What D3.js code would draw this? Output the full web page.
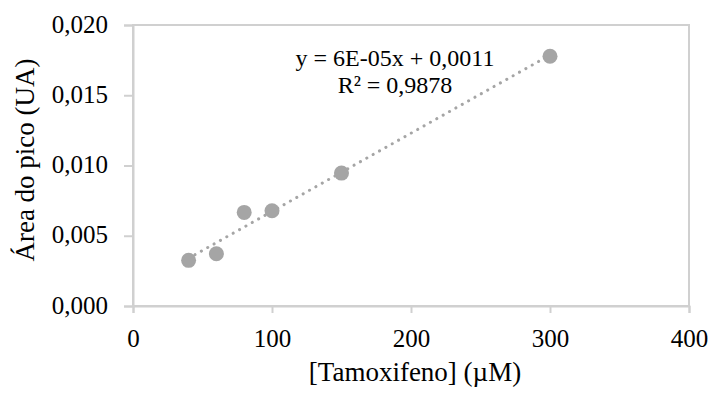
<!DOCTYPE html>
<html>
<head>
<meta charset="utf-8">
<script src="https://cdn.jsdelivr.net/npm/d3@7"></script>
<style>
  html, body { margin: 0; padding: 0; background: #fff; }
  svg { display: block; font-family: "Liberation Serif", "Times New Roman", serif; }
</style>
</head>
<body>
<svg id="chart" width="712" height="394"></svg>
<script>
// Calibration data: tamoxifen concentration (µM) vs. peak area (UA)
const concentrations = [40, 60, 80, 100, 150, 300];
const peakAreas = [0.00325, 0.00372, 0.00666, 0.00678, 0.00946, 0.01778];
const xTicks = [0, 100, 200, 300, 400];
const yTicks = [0, 0.005, 0.010, 0.015, 0.020];
const equationLabel = "y = 6E-05x + 0,0011";
const r2Label = "R² = 0,9878";
const xTitle = "[Tamoxifeno] (µM)";
const yTitle = "Área do pico (UA)";

const svg = d3.select("#chart");
const plot = { left: 133, top: 25, right: 689, bottom: 306 };
const axisColor = "#d0d0d0";
const markColor = "#a5a5a5";

const x = d3.scaleLinear().domain([0, 400]).range([plot.left, plot.right]);
const y = d3.scaleLinear().domain([0, 0.020]).range([plot.bottom, plot.top]);
const fmtY = v => d3.format(".3f")(v).replace(".", ",");

// Plot frame (top and right borders)
svg.append("rect")
  .attr("x", plot.left).attr("y", plot.top)
  .attr("width", plot.right - plot.left).attr("height", plot.bottom - plot.top)
  .attr("fill", "none").attr("stroke", axisColor).attr("stroke-width", 2);

// Axes
const xAxis = svg.append("g")
  .attr("transform", `translate(0,${plot.bottom})`)
  .call(d3.axisBottom(x).tickValues(xTicks).tickSize(7).tickPadding(16));
const yAxis = svg.append("g")
  .attr("transform", `translate(${plot.left},0)`)
  .call(d3.axisLeft(y).tickValues(yTicks).tickFormat(fmtY).tickSize(9).tickPadding(16));

[xAxis, yAxis].forEach(g => {
  g.select(".domain").attr("stroke", axisColor).attr("stroke-width", 2);
  g.selectAll(".tick line").attr("stroke", axisColor).attr("stroke-width", 2);
  g.selectAll(".tick text")
    .attr("fill", "#000")
    .style("font-family", "'Liberation Serif', 'Times New Roman', serif")
    .style("font-size", "25px");
});
yAxis.selectAll(".tick text").attr("dy", "0.28em");

// Least-squares trendline over the measured range
const n = concentrations.length;
const mx = d3.mean(concentrations), my = d3.mean(peakAreas);
let sxy = 0, sxx = 0;
for (let i = 0; i < n; i++) {
  sxy += (concentrations[i] - mx) * (peakAreas[i] - my);
  sxx += (concentrations[i] - mx) ** 2;
}
const slope = sxy / sxx, intercept = my - slope * mx;
const xMin = d3.min(concentrations), xMax = d3.max(concentrations);

svg.append("line")
  .attr("x1", x(xMin)).attr("y1", y(slope * xMin + intercept))
  .attr("x2", x(xMax)).attr("y2", y(slope * xMax + intercept))
  .attr("stroke", markColor).attr("stroke-width", 3)
  .attr("stroke-linecap", "round")
  .attr("stroke-dasharray", "0.1 7.2");

// Data points
svg.append("g").selectAll("circle")
  .data(concentrations.map((c, i) => [c, peakAreas[i]]))
  .join("circle")
  .attr("cx", d => x(d[0])).attr("cy", d => y(d[1]))
  .attr("r", 7.5).attr("fill", markColor);

// Regression equation
svg.append("text")
  .attr("x", 395).attr("y", 66)
  .attr("text-anchor", "middle").attr("font-size", 24)
  .text(equationLabel);
svg.append("text")
  .attr("x", 395).attr("y", 93)
  .attr("text-anchor", "middle").attr("font-size", 24)
  .text(r2Label);

// Axis titles
svg.append("text")
  .attr("x", 415).attr("y", 381)
  .attr("text-anchor", "middle").attr("font-size", 27)
  .text(xTitle);
svg.append("text")
  .attr("transform", "translate(34,160) rotate(-90)")
  .attr("text-anchor", "middle").attr("font-size", 27)
  .text(yTitle);
</script>
</body>
</html>
